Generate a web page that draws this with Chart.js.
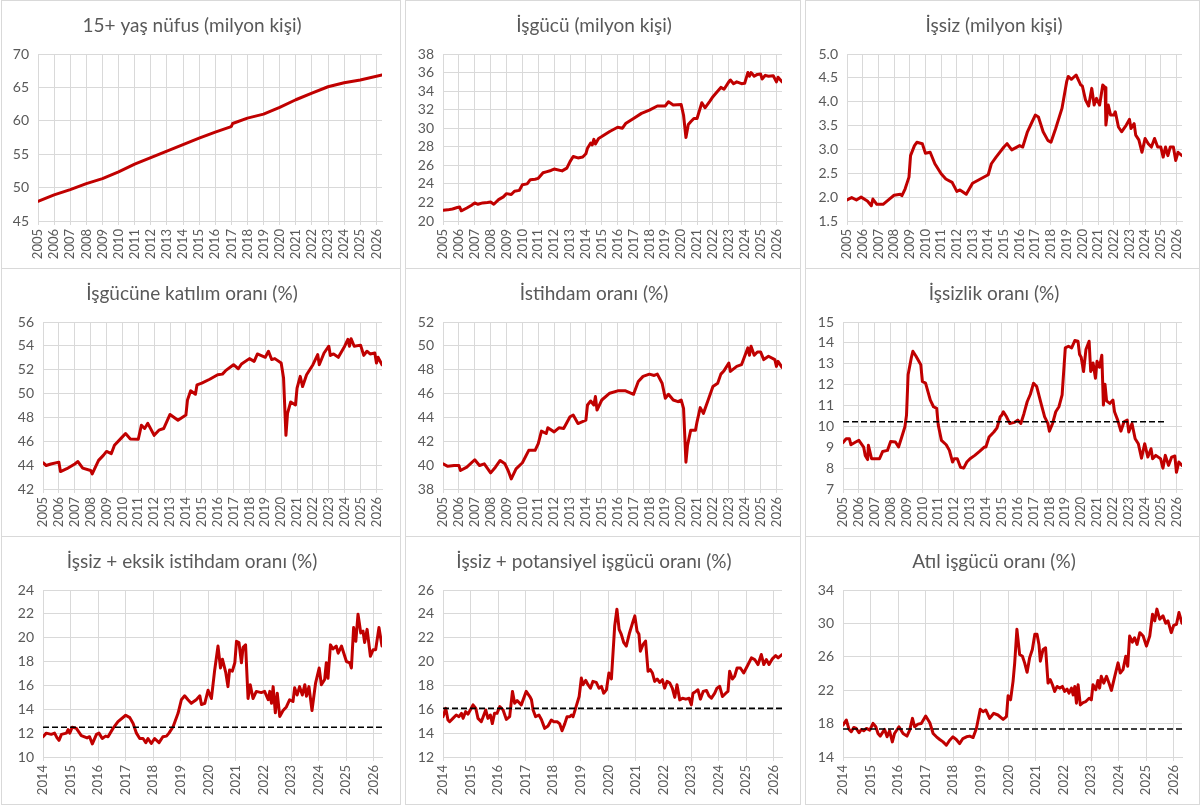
<!DOCTYPE html>
<html><head><meta charset="utf-8">
<script src="https://cdn.jsdelivr.net/npm/chart.js@4.4.1/dist/chart.umd.min.js"></script>
<style>
body{margin:0;background:#fff;width:1200px;height:805px;position:relative;overflow:hidden}
.panel{position:absolute;border:1px solid #D9D9D9;box-sizing:border-box;background:#fff}
canvas{position:absolute}
</style></head><body>
<script>
// ---------- tick labels ----------
const yearsTop = [2005,2006,2007,2008,2009,2010,2011,2012,2013,2014,2015,2016,2017,2018,2019,2020,2021,2022,2023,2024,2025,2026];
const yearsBottom = [2014,2015,2016,2017,2018,2019,2020,2021,2022,2023,2024,2025,2026];
const ticksPop = [45,50,55,60,65,70];
const ticksLabor = [20,22,24,26,28,30,32,34,36,38];
const ticksUnemp = [1.5,2.0,2.5,3.0,3.5,4.0,4.5,5.0];
const ticksLfpr = [42,44,46,48,50,52,54,56];
const ticksEmp = [38,40,42,44,46,48,50,52];
const ticksUrate = [7,8,9,10,11,12,13,14,15];
const ticksU6 = [10,12,14,16,18,20,22,24];
const ticksPot = [12,14,16,18,20,22,24,26];
const ticksSlack = [14,18,22,26,30,34];

// ---------- titles ----------
const titles = ["15+ yaş nüfus (milyon kişi)","İşgücü (milyon kişi)","İşsiz (milyon kişi)",
  "İşgücüne katılım oranı (%)","İstihdam oranı (%)","İşsizlik oranı (%)",
  "İşsiz + eksik istihdam oranı (%)","İşsiz + potansiyel işgücü oranı (%)","Atıl işgücü oranı (%)"];

// ---------- series (year, value) ----------
const popData = [[2005.0,47.95],[2006.0,48.9],[2007.0,49.7],[2008.0,50.6],[2009.0,51.35],[2010.0,52.35],[2011.0,53.5],[2012.0,54.5],[2013.0,55.45],[2014.0,56.45],[2015.0,57.4],[2016.0,58.3],[2016.9,59.05],[2017.0,59.15],[2017.08,59.6],[2018.0,60.4],[2019.0,61.0],[2020.0,62.0],[2021.0,63.15],[2022.0,64.15],[2023.0,65.1],[2024.0,65.7],[2025.0,66.1],[2026.35,66.85]];

const laborData = [[2005.0,21.15],[2005.3,21.2],[2005.6,21.3],[2005.9,21.45],[2006.05,21.5],[2006.15,21.1],[2006.5,21.4],[2006.8,21.7],[2007.0,21.95],[2007.2,21.8],[2007.5,21.95],[2007.8,22.0],[2008.0,22.05],[2008.2,21.8],[2008.5,22.3],[2008.8,22.6],[2009.0,22.95],[2009.3,22.85],[2009.5,23.2],[2009.8,23.3],[2010.0,23.9],[2010.3,24.0],[2010.5,24.45],[2010.8,24.5],[2011.0,24.6],[2011.3,25.2],[2011.5,25.3],[2011.8,25.45],[2012.0,25.6],[2012.5,25.4],[2012.8,25.7],[2013.0,26.4],[2013.2,26.95],[2013.5,26.8],[2013.8,26.9],[2014.0,27.25],[2014.1,27.85],[2014.3,28.4],[2014.4,28.2],[2014.5,28.8],[2014.6,28.3],[2014.8,28.9],[2015.0,29.1],[2015.5,29.65],[2016.0,30.1],[2016.3,30.0],[2016.5,30.5],[2017.0,31.05],[2017.5,31.6],[2018.0,31.95],[2018.5,32.4],[2019.0,32.4],[2019.2,32.85],[2019.5,32.5],[2020.0,32.55],[2020.15,31.4],[2020.3,29.0],[2020.45,30.4],[2020.6,30.7],[2020.8,31.05],[2021.0,31.05],[2021.3,32.75],[2021.5,32.2],[2021.8,32.9],[2022.0,33.4],[2022.2,33.8],[2022.5,34.4],[2022.7,34.2],[2023.0,35.0],[2023.1,35.2],[2023.3,34.8],[2023.5,35.0],[2023.8,34.8],[2024.0,34.85],[2024.2,36.0],[2024.3,35.6],[2024.4,36.0],[2024.6,35.6],[2024.8,35.8],[2025.0,35.85],[2025.1,35.3],[2025.3,35.7],[2025.5,35.6],[2025.8,35.65],[2026.0,35.0],[2026.1,35.5],[2026.35,35.0]];

const unempData = [[2005.0,1.94],[2005.3,1.99],[2005.6,1.94],[2005.9,2.0],[2006.3,1.92],[2006.55,1.82],[2006.65,1.96],[2006.9,1.85],[2007.3,1.85],[2007.7,1.96],[2008.0,2.04],[2008.4,2.06],[2008.5,2.03],[2008.7,2.17],[2008.95,2.42],[2009.05,2.87],[2009.3,3.08],[2009.45,3.15],[2009.8,3.12],[2010.0,2.92],[2010.3,2.94],[2010.6,2.70],[2011.0,2.49],[2011.3,2.38],[2011.7,2.31],[2012.0,2.12],[2012.2,2.15],[2012.6,2.06],[2013.0,2.29],[2013.5,2.38],[2014.0,2.47],[2014.2,2.70],[2014.5,2.84],[2015.0,3.05],[2015.2,3.12],[2015.5,2.99],[2016.0,3.08],[2016.2,3.05],[2016.5,3.37],[2016.8,3.58],[2017.0,3.72],[2017.2,3.68],[2017.5,3.37],[2017.8,3.19],[2018.0,3.15],[2018.3,3.44],[2018.7,3.86],[2019.0,4.42],[2019.1,4.53],[2019.3,4.47],[2019.6,4.56],[2019.9,4.35],[2020.0,4.33],[2020.2,4.04],[2020.4,3.91],[2020.6,4.28],[2020.75,3.93],[2020.9,4.07],[2021.1,3.93],[2021.3,4.35],[2021.45,4.30],[2021.5,3.51],[2021.65,3.93],[2021.8,3.72],[2022.0,3.72],[2022.1,3.79],[2022.3,3.47],[2022.5,3.37],[2022.8,3.51],[2023.0,3.63],[2023.1,3.44],[2023.3,3.54],[2023.4,3.30],[2023.6,3.20],[2023.8,2.94],[2024.0,3.23],[2024.2,3.12],[2024.4,3.05],[2024.6,3.23],[2024.8,3.05],[2025.0,3.05],[2025.15,2.84],[2025.3,3.05],[2025.45,2.87],[2025.6,3.05],[2025.8,3.05],[2025.95,2.77],[2026.1,2.94],[2026.35,2.87]];

const lfprData = [[2005.0,44.2],[2005.2,43.97],[2005.5,44.1],[2006.0,44.25],[2006.1,43.46],[2006.5,43.7],[2007.0,44.1],[2007.2,44.3],[2007.5,43.75],[2008.0,43.55],[2008.1,43.27],[2008.5,44.4],[2008.8,44.82],[2009.0,45.15],[2009.3,44.96],[2009.5,45.66],[2010.0,46.37],[2010.2,46.65],[2010.5,46.2],[2011.0,46.17],[2011.2,47.35],[2011.4,47.07],[2011.6,47.5],[2012.0,46.5],[2012.3,46.93],[2012.6,47.07],[2013.0,48.25],[2013.5,47.77],[2014.0,48.2],[2014.1,49.47],[2014.3,50.23],[2014.6,49.94],[2014.7,50.73],[2015.0,50.87],[2015.5,51.2],[2016.0,51.58],[2016.3,51.63],[2016.5,51.92],[2017.0,52.42],[2017.3,52.08],[2017.5,52.48],[2018.0,52.93],[2018.3,52.7],[2018.5,53.32],[2019.0,53.04],[2019.2,53.55],[2019.4,52.85],[2019.6,52.93],[2020.0,52.56],[2020.15,51.3],[2020.3,46.5],[2020.4,48.34],[2020.6,49.3],[2020.9,49.04],[2021.0,50.45],[2021.2,51.44],[2021.35,50.59],[2021.6,51.58],[2022.0,52.42],[2022.3,53.27],[2022.4,52.42],[2022.7,53.4],[2023.0,53.97],[2023.1,53.2],[2023.3,53.32],[2023.6,53.04],[2024.0,53.97],[2024.2,54.54],[2024.3,53.97],[2024.4,54.6],[2024.6,53.97],[2025.0,54.06],[2025.2,53.2],[2025.4,53.55],[2025.6,53.32],[2025.9,53.4],[2026.0,52.56],[2026.1,53.04],[2026.35,52.42]];

const empData = [[2005.0,40.11],[2005.3,39.9],[2005.7,39.97],[2006.0,39.97],[2006.1,39.55],[2006.5,39.83],[2007.0,40.45],[2007.3,39.97],[2007.6,40.11],[2008.0,39.35],[2008.3,39.83],[2008.6,40.39],[2008.9,40.11],[2009.1,39.55],[2009.3,38.85],[2009.6,39.69],[2010.0,40.2],[2010.4,41.24],[2010.8,41.24],[2011.0,41.8],[2011.2,42.85],[2011.5,42.65],[2011.6,43.13],[2012.0,42.79],[2012.3,43.13],[2012.6,43.07],[2013.0,44.06],[2013.2,44.2],[2013.5,43.49],[2014.0,43.77],[2014.1,45.04],[2014.3,45.38],[2014.5,45.04],[2014.6,45.75],[2014.7,44.62],[2015.0,45.46],[2015.5,46.03],[2016.0,46.23],[2016.5,46.23],[2017.0,45.94],[2017.3,47.01],[2017.6,47.44],[2018.0,47.63],[2018.3,47.52],[2018.5,47.63],[2018.8,46.87],[2019.0,45.61],[2019.2,45.94],[2019.5,45.46],[2019.8,45.32],[2020.0,45.46],[2020.15,44.76],[2020.3,40.25],[2020.4,41.66],[2020.6,42.93],[2020.9,42.93],[2021.0,43.63],[2021.2,44.82],[2021.4,44.34],[2021.7,45.46],[2022.0,46.59],[2022.3,46.87],[2022.5,47.63],[2022.7,47.92],[2023.0,48.56],[2023.1,47.86],[2023.5,48.28],[2023.8,48.42],[2024.0,49.13],[2024.2,49.83],[2024.3,49.21],[2024.4,49.97],[2024.6,49.21],[2024.8,49.49],[2025.0,49.49],[2025.2,48.85],[2025.5,49.13],[2025.9,48.85],[2026.0,48.28],[2026.1,48.7],[2026.35,48.2]];

const urateData = [[2005.0,9.22],[2005.2,9.41],[2005.4,9.41],[2005.5,9.12],[2005.8,9.25],[2006.0,9.33],[2006.3,9.01],[2006.4,8.61],[2006.55,8.41],[2006.6,9.09],[2006.8,8.45],[2007.0,8.45],[2007.3,8.45],[2007.5,8.8],[2007.8,8.85],[2008.0,9.28],[2008.3,9.25],[2008.5,9.01],[2008.7,9.49],[2008.9,9.98],[2009.0,10.54],[2009.1,12.47],[2009.3,13.28],[2009.4,13.6],[2009.6,13.36],[2009.9,12.95],[2010.0,12.15],[2010.2,12.07],[2010.5,11.26],[2010.7,10.94],[2010.9,10.86],[2011.0,10.06],[2011.2,9.33],[2011.5,9.12],[2011.7,8.85],[2011.9,8.29],[2012.0,8.45],[2012.2,8.45],[2012.4,8.04],[2012.6,8.0],[2012.8,8.29],[2013.0,8.45],[2013.3,8.61],[2013.6,8.8],[2013.9,9.01],[2014.0,9.01],[2014.2,9.49],[2014.5,9.73],[2014.7,9.93],[2014.9,10.46],[2015.0,10.54],[2015.1,10.7],[2015.3,10.46],[2015.5,10.14],[2015.8,10.19],[2016.0,10.3],[2016.2,10.14],[2016.4,10.62],[2016.6,11.18],[2016.8,11.54],[2017.0,12.07],[2017.2,11.91],[2017.5,11.02],[2017.7,10.46],[2017.9,10.14],[2018.0,9.77],[2018.2,10.14],[2018.4,10.7],[2018.6,10.94],[2018.8,11.51],[2019.0,13.76],[2019.2,13.84],[2019.4,13.76],[2019.6,14.11],[2019.8,14.08],[2019.9,13.44],[2020.0,13.31],[2020.15,12.63],[2020.3,13.68],[2020.5,14.08],[2020.6,12.63],[2020.75,13.04],[2020.9,12.31],[2021.0,13.12],[2021.15,12.83],[2021.3,13.41],[2021.4,11.02],[2021.5,12.02],[2021.6,11.22],[2021.8,11.1],[2022.0,11.26],[2022.1,10.7],[2022.3,10.3],[2022.5,9.77],[2022.7,10.22],[2022.9,10.3],[2023.0,9.73],[2023.2,10.14],[2023.4,9.41],[2023.6,9.17],[2023.8,8.48],[2024.0,9.17],[2024.2,8.53],[2024.4,8.93],[2024.5,8.45],[2024.7,8.61],[2025.0,8.45],[2025.15,8.0],[2025.3,8.61],[2025.5,8.13],[2025.7,8.53],[2025.9,8.58],[2026.0,7.8],[2026.15,8.29],[2026.35,8.13]];
const urateAvg = [[2005.0,10.22],[2025.4,10.22]];

const u6Data = [[2014.00,11.7],[2014.12,12.0],[2014.30,11.9],[2014.42,12.0],[2014.51,11.6],[2014.58,11.4],[2014.67,11.9],[2014.85,12.0],[2014.91,12.3],[2014.97,12.0],[2015.06,12.5],[2015.21,12.4],[2015.39,11.8],[2015.60,11.6],[2015.69,11.7],[2015.79,11.1],[2015.94,11.9],[2016.03,12.0],[2016.15,11.55],[2016.27,11.75],[2016.36,11.7],[2016.54,12.4],[2016.72,12.96],[2017.00,13.5],[2017.15,13.3],[2017.27,12.8],[2017.39,12.0],[2017.51,11.55],[2017.63,11.55],[2017.73,11.2],[2017.81,11.55],[2017.93,11.13],[2018.05,11.55],[2018.21,11.2],[2018.35,11.7],[2018.48,11.75],[2018.57,12.0],[2018.72,12.54],[2018.90,13.66],[2019.02,14.8],[2019.14,15.13],[2019.26,14.8],[2019.38,14.5],[2019.56,14.8],[2019.69,15.13],[2019.75,14.4],[2019.87,14.5],[2019.99,15.6],[2020.11,14.9],[2020.23,17.3],[2020.35,19.3],[2020.44,17.46],[2020.51,18.2],[2020.63,17.1],[2020.71,15.9],[2020.77,17.3],[2020.87,17.2],[2020.96,17.9],[2021.02,19.7],[2021.11,19.6],[2021.20,17.9],[2021.26,19.2],[2021.35,19.4],[2021.44,14.9],[2021.52,16.06],[2021.62,14.9],[2021.74,15.5],[2021.92,15.4],[2022.04,15.5],[2022.17,14.8],[2022.23,15.5],[2022.29,14.5],[2022.35,15.9],[2022.43,13.7],[2022.50,15.35],[2022.59,13.4],[2022.71,13.9],[2022.83,14.2],[2022.95,14.8],[2023.07,14.65],[2023.13,15.8],[2023.22,15.2],[2023.31,15.9],[2023.41,15.2],[2023.50,16.06],[2023.56,15.1],[2023.65,15.9],[2023.76,13.9],[2023.89,16.2],[2024.02,17.46],[2024.10,16.06],[2024.22,16.5],[2024.28,17.9],[2024.34,16.6],[2024.43,19.4],[2024.52,19.06],[2024.64,19.3],[2024.71,18.7],[2024.83,19.3],[2025.01,18.0],[2025.13,17.9],[2025.19,17.46],[2025.27,20.85],[2025.35,19.7],[2025.43,21.97],[2025.53,20.4],[2025.61,20.56],[2025.67,19.6],[2025.76,20.7],[2025.88,18.45],[2025.98,19.0],[2026.07,19.0],[2026.19,20.85],[2026.30,19.3]];
const u6Avg = [[2014.0,12.5],[2026.3,12.5]];

const potData = [[2014.00,15.38],[2014.10,16.08],[2014.18,15.1],[2014.24,14.96],[2014.36,15.24],[2014.48,15.52],[2014.58,15.38],[2014.67,15.66],[2014.73,15.24],[2014.82,15.8],[2014.91,15.6],[2014.99,15.94],[2015.09,16.37],[2015.19,16.08],[2015.27,15.24],[2015.39,14.96],[2015.55,15.94],[2015.63,15.24],[2015.72,15.52],[2015.79,14.8],[2015.87,15.66],[2015.96,15.66],[2016.06,16.23],[2016.18,15.94],[2016.30,15.15],[2016.42,15.38],[2016.52,17.5],[2016.60,16.5],[2016.69,16.73],[2016.84,16.37],[2017.02,17.5],[2017.15,17.07],[2017.21,16.8],[2017.27,15.94],[2017.36,15.38],[2017.48,15.52],[2017.57,15.15],[2017.69,14.4],[2017.81,14.6],[2017.93,15.1],[2018.02,14.96],[2018.14,14.96],[2018.23,14.8],[2018.32,14.2],[2018.42,14.8],[2018.50,15.38],[2018.60,15.38],[2018.66,15.52],[2018.72,15.38],[2018.81,16.08],[2018.94,17.07],[2019.02,18.62],[2019.08,18.06],[2019.18,18.42],[2019.26,18.06],[2019.35,17.77],[2019.44,18.34],[2019.56,18.25],[2019.66,17.77],[2019.75,17.92],[2019.83,17.35],[2019.93,17.63],[2020.02,19.04],[2020.11,18.54],[2020.23,22.99],[2020.31,24.39],[2020.39,22.7],[2020.47,22.28],[2020.56,21.58],[2020.65,21.3],[2020.77,22.42],[2020.90,23.41],[2020.96,23.83],[2021.04,22.56],[2021.11,22.28],[2021.16,20.87],[2021.26,21.44],[2021.35,21.72],[2021.44,19.18],[2021.52,19.32],[2021.60,19.04],[2021.68,18.34],[2021.77,18.54],[2021.86,18.25],[2021.96,18.48],[2022.04,17.77],[2022.13,18.34],[2022.23,18.2],[2022.32,17.77],[2022.41,17.0],[2022.49,18.06],[2022.59,16.79],[2022.69,16.93],[2022.81,16.85],[2022.93,16.93],[2023.01,16.37],[2023.07,17.35],[2023.17,17.5],[2023.25,17.63],[2023.34,16.85],[2023.44,17.5],[2023.56,17.58],[2023.65,17.13],[2023.74,16.93],[2023.86,17.35],[2023.94,17.77],[2024.04,17.92],[2024.14,17.07],[2024.26,17.35],[2024.34,17.5],[2024.40,19.18],[2024.50,18.54],[2024.58,18.76],[2024.67,19.46],[2024.79,19.46],[2024.91,19.04],[2025.07,19.75],[2025.19,20.31],[2025.31,20.17],[2025.43,19.75],[2025.55,20.59],[2025.64,19.75],[2025.73,20.17],[2025.83,19.75],[2025.95,20.23],[2026.07,20.51],[2026.16,20.31],[2026.30,20.59]];
const potAvg = [[2014.0,16.08],[2026.3,16.08]];

const slackData = [[2014.00,17.82],[2014.12,18.43],[2014.22,17.3],[2014.30,17.02],[2014.39,17.54],[2014.48,17.42],[2014.58,16.9],[2014.67,17.3],[2014.75,17.14],[2014.85,17.42],[2014.97,17.22],[2015.09,18.02],[2015.19,17.62],[2015.27,16.82],[2015.35,16.5],[2015.51,17.3],[2015.60,16.42],[2015.69,17.14],[2015.79,15.81],[2015.87,16.82],[2016.03,17.62],[2016.18,16.82],[2016.32,16.5],[2016.42,17.22],[2016.52,18.63],[2016.60,17.62],[2016.72,17.94],[2016.84,18.02],[2017.00,18.91],[2017.15,18.1],[2017.27,16.82],[2017.39,16.42],[2017.51,16.1],[2017.63,15.81],[2017.75,15.41],[2017.87,16.01],[2017.99,16.42],[2018.11,16.1],[2018.23,15.61],[2018.35,16.21],[2018.48,16.42],[2018.60,16.5],[2018.72,16.33],[2018.84,17.42],[2018.98,19.71],[2019.08,19.43],[2019.18,19.63],[2019.32,18.63],[2019.47,19.23],[2019.62,19.03],[2019.81,18.5],[2019.93,18.83],[2019.99,21.33],[2020.08,20.85],[2020.17,23.06],[2020.23,25.27],[2020.31,29.29],[2020.41,26.27],[2020.51,26.07],[2020.59,25.27],[2020.68,24.14],[2020.77,25.87],[2020.87,26.88],[2020.96,28.69],[2021.04,28.69],[2021.11,27.48],[2021.16,25.47],[2021.26,26.88],[2021.35,27.08],[2021.44,22.85],[2021.52,23.26],[2021.60,22.65],[2021.68,21.85],[2021.77,22.45],[2021.86,22.25],[2021.96,22.45],[2022.04,21.85],[2022.13,22.13],[2022.20,21.65],[2022.29,22.25],[2022.35,21.44],[2022.41,22.45],[2022.47,20.44],[2022.53,22.65],[2022.61,20.24],[2022.71,20.52],[2022.81,20.64],[2022.93,21.04],[2023.01,20.84],[2023.07,22.65],[2023.17,22.05],[2023.25,23.17],[2023.31,22.25],[2023.37,23.66],[2023.46,22.85],[2023.56,23.66],[2023.65,22.85],[2023.74,21.97],[2023.86,23.66],[2023.98,25.27],[2024.06,24.06],[2024.16,24.46],[2024.26,26.07],[2024.33,24.87],[2024.40,28.49],[2024.50,27.76],[2024.58,28.28],[2024.67,27.48],[2024.77,28.89],[2024.89,28.49],[2025.01,27.28],[2025.13,28.49],[2025.23,31.1],[2025.31,30.3],[2025.39,31.71],[2025.49,30.5],[2025.61,30.9],[2025.71,30.02],[2025.79,30.3],[2025.91,28.89],[2026.00,29.77],[2026.10,29.9],[2026.19,31.3],[2026.30,30.02]];
const slackAvg = [[2014.0,17.35],[2026.3,17.35]];

// ---------- layout ----------
const GRID = '#D9D9D9', TXT = '#595959', RED = '#C00000';
const FONT = 'Lato, "Open Sans", sans-serif';
const cols = [{L:1,W:400,pr:18},{L:405,W:396,pr:18},{L:805,W:395,pr:17}];
const rows = [{T:0,H:269},{T:268,H:269},{T:536,H:269}];

const specs = [
  {r:0,c:0,data:popData,avg:null,yt:ticksPop,yw:36,xt:yearsTop,xmax:2026.35,dec:0},
  {r:0,c:1,data:laborData,avg:null,yt:ticksLabor,yw:37,xt:yearsTop,xmax:2026.35,dec:0},
  {r:0,c:2,data:unempData,avg:null,yt:ticksUnemp,yw:41,xt:yearsTop,xmax:2026.35,dec:1},
  {r:1,c:0,data:lfprData,avg:null,yt:ticksLfpr,yw:41,xt:yearsTop,xmax:2026.35,dec:0},
  {r:1,c:1,data:empData,avg:null,yt:ticksEmp,yw:37,xt:yearsTop,xmax:2026.35,dec:0},
  {r:1,c:2,data:urateData,avg:urateAvg,yt:ticksUrate,yw:37,xt:yearsTop,xmax:2026.35,dec:0},
  {r:2,c:0,data:u6Data,avg:u6Avg,yt:ticksU6,yw:41,xt:yearsBottom,xmax:2026.3,dec:0},
  {r:2,c:1,data:potData,avg:potAvg,yt:ticksPot,yw:37,xt:yearsBottom,xmax:2026.3,dec:0},
  {r:2,c:2,data:slackData,avg:slackAvg,yt:ticksSlack,yw:37,xt:yearsBottom,xmax:2026.3,dec:0}
];

specs.forEach((s, i) => {
  const col = cols[s.c], row = rows[s.r];
  const div = document.createElement('div');
  div.className = 'panel';
  div.style.left = col.L + 'px'; div.style.top = row.T + 'px';
  div.style.width = col.W + 'px'; div.style.height = row.H + 'px';
  document.body.appendChild(div);
  const cv = document.createElement('canvas');
  cv.width = col.W - 2; cv.height = row.H - 2;
  cv.style.left = '0px'; cv.style.top = '0px';
  div.appendChild(cv);

  const datasets = [{
    data: s.data.map(p => ({x:p[0], y:p[1]})),
    borderColor: RED, borderWidth: 3, pointRadius: 0, tension: 0,
    borderJoinStyle: 'round', borderCapStyle: 'round', order: 2
  }];
  if (s.avg) datasets.push({
    data: s.avg.map(p => ({x:p[0], y:p[1]})),
    borderColor: '#000', borderWidth: 1.6, borderDash: [6,3], pointRadius: 0, order: 1
  });

  new Chart(cv, {
    type: 'line',
    data: {datasets},
    options: {
      responsive: false, animation: false, events: [],
      layout: {padding: {left:0, right:col.pr, top:0, bottom:0}},
      plugins: {
        legend: {display:false}, tooltip: {enabled:false},
        title: {display:true, text: titles[i], color: TXT,
          font: {family: FONT, size: 19, weight: 'normal', lineHeight: 1.2}, padding: {top:13, bottom:17.2}}
      },
      scales: {
        x: {
          type: 'linear', min: s.xt[0], max: s.xmax,
          afterBuildTicks: sc => { sc.ticks = s.xt.map(v => ({value:v})); },
          afterFit: sc => { sc.height = 47; },
          ticks: {autoSkip:false, minRotation:90, maxRotation:90, color:TXT, padding:4,
            font:{family:FONT, size:13}, callback: v => String(v)},
          grid: {color:GRID, lineWidth:1, tickLength:4, drawTicks:true},
          border: {color:GRID}
        },
        y: {
          min: s.yt[0], max: s.yt[s.yt.length-1],
          afterBuildTicks: sc => { sc.ticks = s.yt.map(v => ({value:v})); },
          afterFit: sc => { sc.width = s.yw; },
          ticks: {autoSkip:false, color:TXT, padding:9, font:{family:FONT, size:14},
            callback: v => Number(v).toFixed(s.dec)},
          grid: {color:GRID, lineWidth:1, drawTicks:false},
          border: {display:false}
        }
      }
    }
  });
});
</script>
</body></html>
